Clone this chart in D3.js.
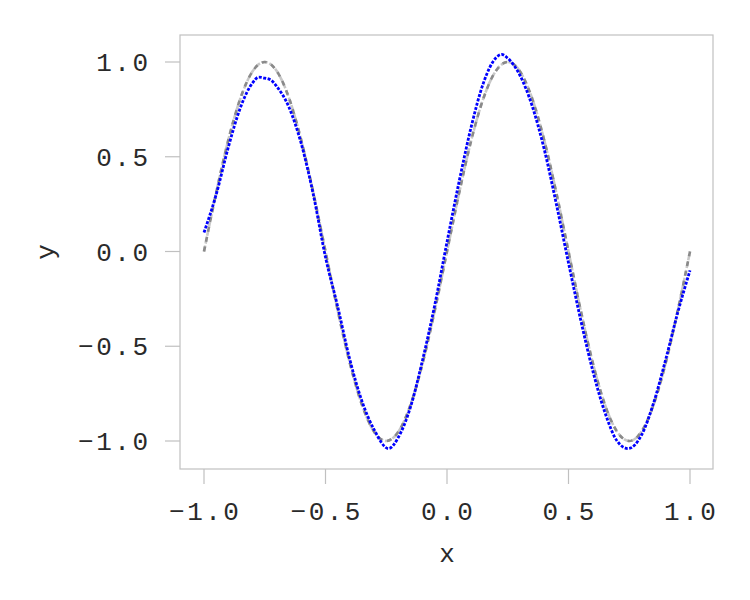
<!DOCTYPE html>
<html><head><meta charset="utf-8">
<script src="https://cdnjs.cloudflare.com/ajax/libs/d3/7.8.5/d3.min.js"></script>
<style>body{margin:0;background:#fff}svg{display:block}</style>
</head><body>
<svg id="c" width="750" height="600"></svg>
<script>
const xTicks = [-1, -0.5, 0, 0.5, 1];
const xTickLabels = ["\u22121.0", "\u22120.5", "0.0", "0.5", "1.0"];
const yTicks = [-1, -0.5, 0, 0.5, 1];
const yTickLabels = ["\u22121.0", "\u22120.5", "0.0", "0.5", "1.0"];

const trueX = [-1,-0.95,-0.9,-0.85,-0.8,-0.75,-0.7,-0.65,-0.6,-0.55,-0.5,-0.45,-0.4,-0.35,-0.3,-0.25,-0.2,-0.15,-0.1,-0.05,0,0.05,0.1,0.15,0.2,0.25,0.3,0.35,0.4,0.45,0.5,0.55,0.6,0.65,0.7,0.75,0.8,0.85,0.9,0.95,1];
const trueY = [0,0.309,0.588,0.809,0.951,1,0.951,0.809,0.588,0.309,0,-0.309,-0.588,-0.809,-0.951,-1,-0.951,-0.809,-0.588,-0.309,0,0.309,0.588,0.809,0.951,1,0.951,0.809,0.588,0.309,0,-0.309,-0.588,-0.809,-0.951,-1,-0.951,-0.809,-0.588,-0.309,0];

const fitX = [-1,-0.95,-0.9,-0.85,-0.8,-0.775,-0.75,-0.725,-0.7,-0.65,-0.6,-0.55,-0.5,-0.45,-0.4,-0.35,-0.3,-0.24,-0.2,-0.15,-0.1,-0.05,0,0.05,0.1,0.15,0.2,0.225,0.25,0.3,0.35,0.4,0.45,0.5,0.55,0.6,0.65,0.7,0.745,0.8,0.85,0.9,0.95,1];
const fitY = [0.10,0.30,0.55,0.76,0.89,0.92,0.915,0.905,0.87,0.76,0.57,0.30,-0.03,-0.29,-0.57,-0.79,-0.94,-1.04,-0.98,-0.82,-0.57,-0.28,0.05,0.37,0.66,0.89,1.02,1.04,1.02,0.93,0.77,0.54,0.25,-0.06,-0.36,-0.63,-0.85,-1.00,-1.04,-0.97,-0.80,-0.57,-0.32,-0.10];

const svg = d3.select("#c");
const font = "'Liberation Mono', 'DejaVu Sans Mono', monospace";
const fs = 26, ls = 2.5, textCol = "#2a2a2a";
const x = d3.scaleLinear().domain([-1, 1]).range([204, 690]);
const y = d3.scaleLinear().domain([-1, 1]).range([441, 62]);
const frame = {l: 180, r: 713, t: 35, b: 469};
const axisCol = "#c0c0c0";

svg.append("rect").attr("x", frame.l).attr("y", frame.t)
  .attr("width", frame.r - frame.l).attr("height", frame.b - frame.t)
  .attr("fill", "none").attr("stroke", axisCol).attr("stroke-width", 1.2);

// x ticks
const gx = svg.append("g");
gx.selectAll("line").data(xTicks).join("line")
  .attr("x1", d => x(d)).attr("x2", d => x(d))
  .attr("y1", frame.b).attr("y2", frame.b + 15)
  .attr("stroke", axisCol).attr("stroke-width", 1.2);
gx.selectAll("text").data(xTicks).join("text")
  .attr("x", d => x(d) + ls / 2).attr("y", 520)
  .attr("text-anchor", "middle").attr("letter-spacing", ls)
  .attr("font-family", font).attr("font-size", fs).attr("fill", textCol)
  .text((d, i) => xTickLabels[i]);

// y ticks
const gy = svg.append("g");
gy.selectAll("line").data(yTicks).join("line")
  .attr("x1", frame.l - 15).attr("x2", frame.l)
  .attr("y1", d => y(d)).attr("y2", d => y(d))
  .attr("stroke", axisCol).attr("stroke-width", 1.2);
gy.selectAll("text").data(yTicks).join("text")
  .attr("x", 148 + ls).attr("y", d => y(d))
  .attr("dy", "0.35em").attr("letter-spacing", ls)
  .attr("text-anchor", "end")
  .attr("font-family", font).attr("font-size", fs).attr("fill", textCol)
  .text((d, i) => yTickLabels[i]);

svg.append("text").attr("x", 447).attr("y", 562)
  .attr("text-anchor", "middle").attr("font-family", font)
  .attr("font-size", fs).attr("fill", textCol).text("x");
svg.append("text").attr("transform", "translate(54,252) rotate(-90)")
  .attr("text-anchor", "middle").attr("font-family", font)
  .attr("font-size", fs).attr("fill", textCol).text("y");

const trueData = trueX.map((v, i) => [v, trueY[i]]);
const fitData = fitX.map((v, i) => [v, fitY[i]]);
const line = d3.line().x(d => x(d[0])).y(d => y(d[1])).curve(d3.curveMonotoneX);

svg.append("path").attr("d", line(trueData)).attr("fill", "none")
  .attr("stroke", "#c8c8c8").attr("stroke-width", 2.6)
  .attr("stroke-dasharray", "6,2");
svg.append("path").attr("d", line(trueData)).attr("fill", "none")
  .attr("stroke", "#8a8a8a").attr("stroke-width", 2.6)
  .attr("stroke-dasharray", "5,5");
svg.append("path").attr("d", line(fitData)).attr("fill", "none")
  .attr("stroke", "#0000ff").attr("stroke-width", 2.8)
  .attr("stroke-dasharray", "3,1.5");
</script>
</body></html>
